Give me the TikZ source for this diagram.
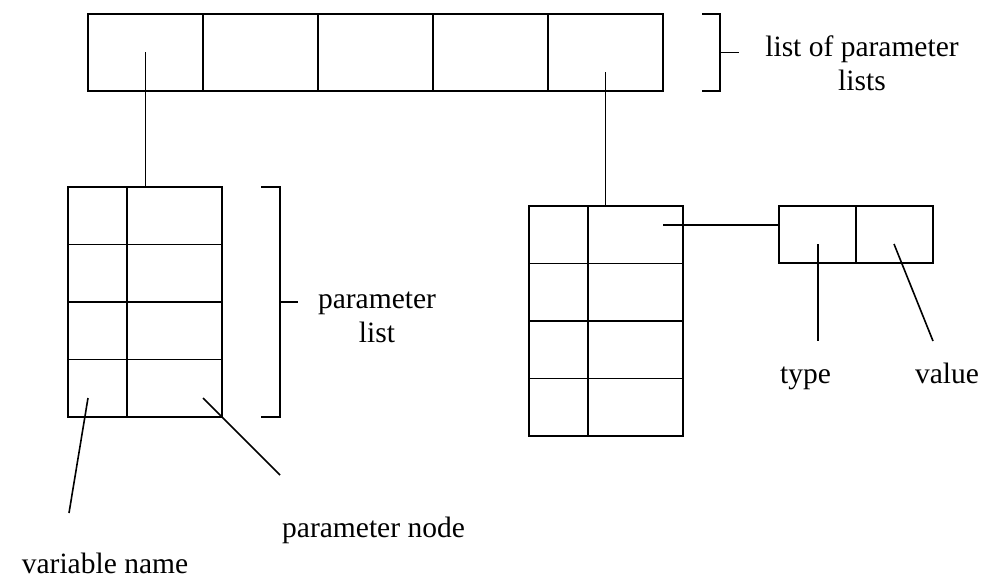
\documentclass[tikz,border=0pt]{standalone}
\usepackage{fontspec}
\setmainfont{Liberation Serif}
\usepackage{tikz}

\begin{document}
\begin{tikzpicture}[x=1pt, y=-1pt, line width=1.6pt,
	celda/.style={rectangle, draw=black, inner sep=0pt, outer sep=0pt},
	lista/.style={celda, minimum width=115pt, minimum height=77pt},
	var/.style={celda, minimum width=59pt, minimum height=57.5pt},
	nodo/.style={celda, minimum width=95pt, minimum height=57.5pt},
	campo/.style={celda, minimum width=77pt, minimum height=57pt},
	etiqueta/.style={inner sep=0pt, font=\fontsize{29.5}{34}\selectfont}]
				\useasboundingbox (0,0) rectangle (984,578);

				%%% LISTA DE LISTAS
				\node[lista] (L1) at (145.5,52.5) {};
				\node[lista] (L2) at (260.5,52.5) {};
				\node[lista] (L3) at (375.5,52.5) {};
				\node[lista] (L4) at (490.5,52.5) {};
				\node[lista] (L5) at (605.5,52.5) {};

				%%% LISTA DE PARAMETROS (IZQUIERDA)
				\node[var] (A1) at (97.5,215.75) {};
				\node[var] (A2) at (97.5,273.25) {};
				\node[var] (A3) at (97.5,330.75) {};
				\node[var] (A4) at (97.5,388.25) {};
				\node[nodo] (B1) at (174.5,215.75) {};
				\node[nodo] (B2) at (174.5,273.25) {};
				\node[nodo] (B3) at (174.5,330.75) {};
				\node[nodo] (B4) at (174.5,388.25) {};

				%%% LISTA DE PARAMETROS (DERECHA)
				\node[var] (C1) at (558.5,234.75) {};
				\node[var] (C2) at (558.5,292.25) {};
				\node[var] (C3) at (558.5,349.75) {};
				\node[var] (C4) at (558.5,407.25) {};
				\node[nodo] (D1) at (635.5,234.75) {};
				\node[nodo] (D2) at (635.5,292.25) {};
				\node[nodo] (D3) at (635.5,349.75) {};
				\node[nodo] (D4) at (635.5,407.25) {};

				%%% NODO DE PARAMETRO
				\node[campo] (tipo) at (817.5,234.5) {};
				\node[campo] (valor) at (894.5,234.5) {};

				%%% LLAVES
				\draw (702,14) -- (720,14) -- (720,91) -- (702,91);
				\draw (720,52.5) -- (739,52.5);
				\draw (261,187) -- (280,187) -- (280,417) -- (261,417);
				\draw (280,302) -- (298,302);

				%%% ETIQUETAS
				\node[etiqueta, align=center] (lpl) at (862,63.5) {list of parameter\\lists};
				\node[etiqueta, align=center] (pl) at (377,317.5) {parameter\\list};
				\node[etiqueta, anchor=base] (pn) at (373.5,537) {parameter node};
				\node[etiqueta, anchor=base] (vn) at (105,573) {variable name};
				\node[etiqueta, anchor=base] (ty) at (805.5,383) {type};
				\node[etiqueta, anchor=base] (va) at (947,383) {value};

				%%% PUNTOS
				\coordinate (i5) at (605.5,72);
				\coordinate (h) at (663,225);
				\coordinate (ty0) at (818,244);
				\coordinate (ty1) at (818,341);
				\coordinate (va0) at (894,244);
				\coordinate (va1) at (933,341);
				\coordinate (vn0) at (88,398);
				\coordinate (vn1) at (69,513);
				\coordinate (pn0) at (203,398);
				\coordinate (pn1) at (280,475);

				%%% CONEXIONES
				\draw (L1.center) -- (L1.center |- B1.north);
				\draw (i5) -- (i5 |- D1.north);
				\draw (h) -- (h -| tipo.west);
				\draw (ty0) -- (ty1);
				\draw (va0) -- (va1);
				\draw (vn0) -- (vn1);
				\draw (pn0) -- (pn1);
\end{tikzpicture}
\end{document}
